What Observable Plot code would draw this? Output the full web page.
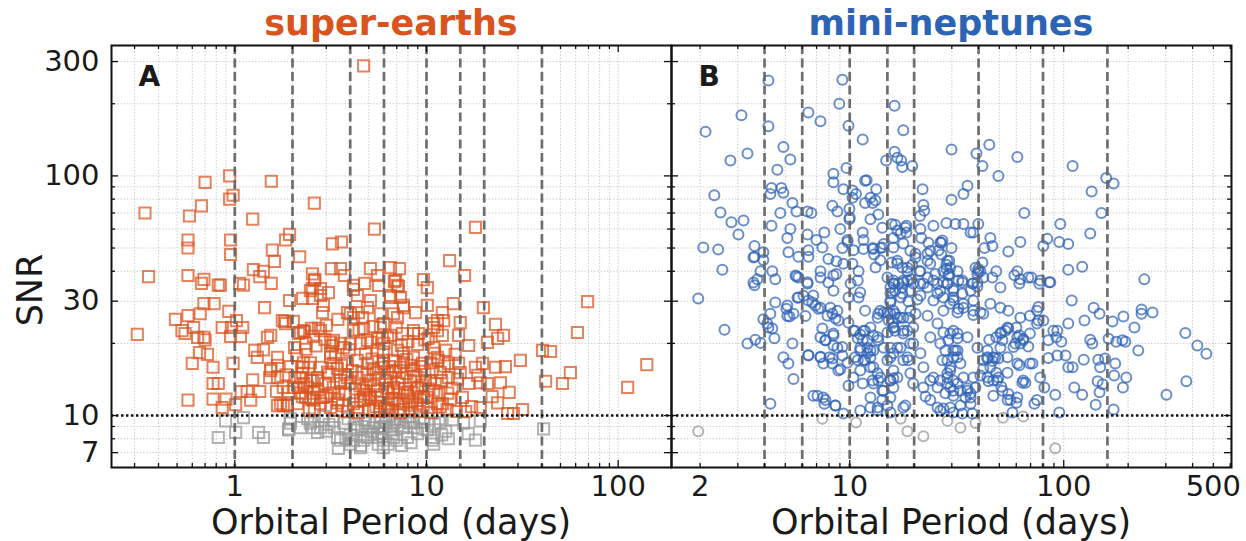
<!DOCTYPE html>
<html>
<head>
<meta charset="utf-8">
<script src="https://cdn.jsdelivr.net/npm/d3@7"></script>
<script src="https://cdn.jsdelivr.net/npm/@observablehq/plot@0.6"></script>
<style>
  body { margin: 0; background: #fff; font-family: "DejaVu Sans", sans-serif; }
  #fig { position: relative; width: 1246px; height: 541px; overflow: hidden; }
  #fig svg { position: absolute; top: 40px; overflow: visible; }
  .lbl { position: absolute; line-height: 1; white-space: nowrap; transform: translate(-50%, -50%); color: #1a1a1a; }
  .title { font-weight: bold; font-size: 35px; }
  .axis { font-size: 35px; }
</style>
</head>
<body>
<div id="fig">
  <div class="lbl title" style="left:391px; top:23px; color:#d9531e;">super-earths</div>
  <div class="lbl title" style="left:951px; top:23px; color:#2d63b4;">mini-neptunes</div>
  <div class="lbl axis" style="left:30px; top:290px; transform:translate(-50%,-50%) rotate(-90deg);">SNR</div>
  <div class="lbl axis" style="left:391px; top:522px;">Orbital Period (days)</div>
  <div class="lbl axis" style="left:951px; top:522px;">Orbital Period (days)</div>
</div>
<script>
// Detected planets: [orbital period (days), SNR]
const superEarths = [
  [4.7,288],[0.34,70],[0.70,94],[0.94,100],[0.94,80],[0.98,83],[1.55,95],[0.67,75],[0.58,68],[1.24,66],[2.6,77],[5.35,60],
  [1.93,57],[1.84,54],[0.57,54],[0.57,50],[0.95,54],[0.95,47],[1.57,49],[1.61,44],[2.18,46],[3.23,52],[3.6,53],
  [0.355,38],[0.57,38.4],[0.69,37],[0.67,35.6],[0.82,35],[0.84,35],[1.06,35.6],[1.11,35],[1.25,40.6],[1.41,40],[1.35,38],
  [1.55,35.6],[2.54,39],[2.61,37],[3.19,41],[3.56,41],[3.73,38.4],[5.1,41],[5.55,38.4],[6.49,41.4],[6.89,36.6],[4.16,33.6],[4.75,35.6],
  [18,61],[13.2,44.3],[15.8,38.4],[7.23,41],[6.8,36.2],[7.14,34.5],[9.64,36.9],
  [0.31,21.8],[0.49,25.2],[0.57,26.1],[0.53,22.6],[0.55,22],[0.69,29.3],[0.78,29.3],[0.66,26.6],[0.93,27.2],[1.02,24.9],
  [0.86,23.3],[0.96,23.3],[1.10,23.3],[1.07,21.4],[0.95,21.4],[0.64,21.2],[0.69,21.2],[0.70,20.7],[0.61,23.3],[0.655,18.3],
  [0.72,18],[0.60,16.5],[0.77,15.9],[0.98,16.5],[0.77,13.6],[0.82,13.6],[0.57,11.6],[0.77,11.7],[0.90,11.7],[0.86,10.8],[1.01,11.1],
  [1.08,12.6],[1.16,12.6],[1.24,14.1],[1.35,12.6],[1.21,11.6],[1.27,18.7],[1.31,17.5],[1.41,18.8],[1.48,21.2],[1.54,21.6],
  [1.43,28.2],[1.54,15.7],[1.52,14.4],[1.67,17.5],[1.67,16.2],[1.65,12.6],
  [1.93,30.2],[2.26,30.8],[2.54,30.8],[2.80,33.9],[2.48,33.2],[2.61,36.6],[1.77,24.9],[1.82,24.7],[2.02,24.7],[2.20,22.2],
  [2.31,22.4],[2.51,23.1],[2.73,23.1],[2.57,21.4],[1.73,11.2],[1.88,11.1],[1.79,11.0],
  [1.91,12.6],[2.15,13.1],[2.06,14.4],[2.26,15.9],[2.42,15.9],[2.54,14.0],[2.39,13.1],[2.57,12.4],[2.80,11.9],[2.34,11.9],[2.20,14.4],
  [2.54,33.9],[2.80,31.7],[3.08,32.6],[2.90,28.8],[2.87,26.9],
  [4.16,34.9],[4.36,31.7],[3.87,26.9],[4.42,26.9],[4.16,25.6],[4.64,25.6],[4.92,28.2],[5.10,30.2],
  [5.62,34.9],[7.06,34.9],[6.49,31.7],[7.58,28.2],[7.06,25.6],[5.97,24.2],[5.75,26.6],
  [8.77,26.9],[10.1,34.2],[10.1,28.8],[10.9,24.2],[11.4,24.9],
  [1.84,24.2],[2.28,22.6],[2.80,22.6],[2.15,22.0],
  [3.16,20.2],[3.23,19.6],[3.69,19.2],[4.53,20.0],[5.10,20.2],[5.55,21.0],[5.89,21.2],[6.49,21.6],[7.49,22.0],[8.55,22.6],
  [9.09,22.0],[10.9,19.2],[10.2,21.0],[11.4,22.6],
  [2.28,16.6],[2.48,16.6],[2.80,15.9],[3.16,17.5],[3.43,15.7],[3.87,16.5],[4.36,17.0],[4.92,16.5],[5.29,15.7],[5.97,16.5],
  [6.73,17.0],[7.58,16.6],[8.55,17.5],[9.53,16.5],[10.5,16.6],[11.4,17.5],
  [1.54,15.4],[1.67,14.4],[1.79,13.1],[2.02,13.1],[2.26,15.0],[2.48,14.0],[2.70,14.4],[2.97,13.6],[3.27,13.1],[3.56,14.0],
  [4.01,13.6],[4.36,14.4],[4.69,12.7],[5.10,14.0],[5.55,12.7],[6.11,14.0],[6.73,13.1],[7.49,14.4],[8.25,14.0],[8.98,13.1],
  [9.88,14.0],[11.1,13.6],
  [1.67,11.0],[1.88,11.0],[2.12,11.2],[2.57,11.6],[2.90,11.9],[3.16,10.8],[3.47,11.6],[3.78,12.4],[4.16,11.2],[4.69,11.6],
  [5.10,11.9],[5.75,11.3],[6.34,12.4],[7.06,11.2],[7.95,12.1],[8.98,11.2],[10.1,11.9],[11.4,11.2],
  [69.2,29.9],[61.3,22.2],[40.3,18.7],[44.4,18.5],[30.9,17.0],[25.8,16.0],[22.9,15.9],[23.5,21.0],[25.2,21.6],[22.9,24.0],
  [19.8,28.2],[20.8,20.2],[19.6,16.5],[20.8,13.6],[19.1,10.8],[23.5,11.3],[26.5,10.2],[28.4,10.2],[31.7,10.6],[41.8,13.9],
  [51.2,13.6],[56.3,15.1],[112,13.1],[141,16.3],
  [13.8,29.3],[12.1,26.9],[12.3,24.9],[7.58,28.8],
  [15.0,24.4],[14.7,21.6],[16.6,19.6],[14.7,16.5],[15.0,15.1],[16.6,13.6],[15.4,11.9],[19.1,13.7],[18.5,14.7],[18.0,15.9],
  [10.9,23.3],[12.1,21.6],[12.6,18.7],[11.5,17.0],[13.0,16.5],[11.8,15.1],[13.0,14.4],[10.9,12.7],[12.9,12.4],[12.1,11.2],
  [10.1,10.8],[9.64,11.9],[10.5,14.0],
  [8.55,22.0],[7.58,18.2],[8.55,15.4],[7.31,15.9],[8.98,12.9],[7.95,12.4],[6.73,12.7],[7.58,11.2],[6.26,10.8],[6.49,14.4],
  [7.06,18.7],[6.26,21.2],[5.75,23.3],[6.73,26.6],[7.31,31.1],[6.49,31.1],
  [3.27,20.6],[3.56,20.0],[3.16,18.2],[3.27,16.5],[4.01,26.6],[4.16,22.6],[4.69,23.1],[4.92,20.6],[5.55,18.7],[5.97,17.0],
  [6.26,15.0],[5.55,11.9],[4.53,11.6],[5.29,10.5],[6.34,11.2],[3.87,14.4],[3.56,13.6],[2.70,14.0],[2.28,13.6],[2.20,12.4],
  [2.48,11.9],[2.80,11.2],[3.16,12.4],[3.43,11.3],
  [24.3,13.7],[27.0,12.5],[22.0,12.0],
  [3.9,10.4],[4.4,10.3],[5.0,10.6],[5.7,10.4],[6.6,10.5],[7.3,10.3],[8.2,10.7],[9.2,10.4],[3.4,10.5],[2.6,10.6],
  [12.8,10.6],[14.3,10.4],[17.2,10.9],[16.0,10.4],
  [2.1,17.8],[2.35,18.9],[2.65,19.5],[2.95,20.8],[3.05,15.2],[3.35,17.9],[3.6,16.2],[3.75,14.8],[3.95,18.8],[4.1,15.4],
  [4.25,12.9],[4.5,13.3],[4.6,15.1],[4.8,18.1],[4.85,13.1],[5.0,12.2],[5.2,17.2],[5.3,13.3],[5.45,15.1],[5.65,14.4],
  [5.8,12.2],[5.95,18.4],[6.2,13.0],[6.4,16.0],[6.6,11.8],[6.9,15.4],[7.1,13.6],[7.2,12.5],[7.4,19.6],[7.7,13.0],
  [7.9,15.0],[8.1,11.5],[8.3,16.2],[8.6,12.4],[8.8,14.6],[9.0,19.8],[9.3,12.0],[9.5,13.4],[9.8,15.3],[10.3,12.9],
  [10.7,15.5],[11.0,18.2],[11.6,12.4],[12.0,14.0],[12.4,16.1],[13.3,11.7],[13.6,13.0],[14.1,18.0],[14.5,14.2],[3.5,12.4],
  [3.0,12.1],[2.7,12.8],[2.45,10.5],[3.65,11.0],[4.35,10.8],[4.75,12.3],[5.45,10.9],[6.05,10.7],[6.8,11.6],[7.6,10.6],
  [8.4,11.4],[9.6,11.0],[10.6,10.3],[11.8,10.9],[4.0,19.9],[4.45,22.8],[5.25,23.5],[6.0,20.0],[6.95,23.4],[8.0,20.4],
  [9.8,20.7],[3.0,23.8],[3.45,25.2],[2.35,20.0],[2.05,19.2],[1.95,16.0],[1.85,14.8],[2.25,12.0],[3.1,14.9],[4.9,14.9],
  [5.8,15.9],[6.7,15.2],[7.9,17.1],[9.3,16.0]
];

// Super-earth candidates below the SNR cut
const superEarthsFaint = [
  [1.95,9.3],[2.20,8.9],[2.48,9.3],[2.80,8.9],[1.91,8.7],[2.70,8.5],[3.43,8.1],[3.56,7.9],[4.01,7.6],[4.53,7.5],[4.92,8.1],
  [5.29,8.9],[5.55,8.4],[5.97,7.9],[6.11,9.5],[7.06,9.1],[7.58,8.9],[8.25,9.3],[8.98,8.4],[10.1,8.7],[10.9,8.1],[10.9,7.6],
  [6.49,8.7],[4.36,8.7],[40.8,8.8],[13.0,8.0],[10.7,7.9],[18.0,7.9],[15.6,9.3],[19.1,9.5],[11.8,9.35],[8.55,9.5],[6.73,8.1],
  [5.95,7.35],[7.95,8.1],[0.895,9.5],[1.01,8.5],[0.82,8.1],[1.11,9.8],[1.33,8.5],[1.41,8.1],[1.91,8.8],[1.95,9.7],[2.57,8.9],
  [3.27,9.5],[3.47,7.3],[4.53,7.35],[4.16,7.85],[5.10,8.6],[5.55,8.1],[6.73,9.3],
  [4.8,9.6],[5.8,9.8],[6.0,9.0],[5.4,9.4],[3.9,9.7],[3.1,9.2],[2.4,9.7],[4.3,9.2],[6.4,9.9],[7.3,9.6],[9.2,9.7],[9.7,9.4],
  [5.9,8.4],[6.3,7.6],[4.0,8.3],[3.0,8.6],[5.7,8.9],[11.6,9.7],[12.6,8.6],[2.9,9.9],[8.1,9.9],
  [3.3,8.9],[3.7,9.3],[4.2,8.9],[4.6,9.0],[5.0,9.3],[5.2,8.3],[6.6,8.4],[7.0,7.9],[7.8,9.4],[8.6,8.9],[9.5,8.8],
  [11.0,9.2],[12.0,8.3],[13.8,9.6],[16.5,8.4],[2.6,9.5],[3.8,8.0],[4.7,7.9],[6.9,9.6],[8.3,7.7],[5.6,7.6],[7.4,7.5]
];

const miniNeptunes = [
  [2.12,153],[3.12,179],[2.77,116],[3.33,124],[4.17,250],[4.17,161],[4.90,132],[5.28,117],[4.59,106],[6.41,184],[7.30,169],
  [9.24,252],[8.94,200],[9.87,162],[11.5,142],[16.2,196],[17.8,155],[16.2,126],[14.8,116],[16.7,119],[17.4,116],[17.6,109],
  [19.6,110],[29.9,129],[2.33,83],[2.07,50.2],[2.43,49.3],[2.54,40.6],[2.49,70.3],[2.80,64],[3.19,65.1],[3.02,57],[3.59,51],
  [3.59,46],[3.95,48],[3.95,44.6],[3.83,40],[3.70,37],[3.59,35],[4.31,89],[4.79,89],[4.26,84],[4.90,85],[5.40,77],[5.64,71],
  [4.74,70],[4.31,62],[5.28,60],[5.11,55],[5.17,48],[4.35,40],[4.49,37],[5.76,46],[6.41,46],[6.41,49],[6.35,57],[5.64,38],
  [6.35,36],[6.35,71],[6.62,70],[6.99,54],[7.61,58],[7.30,40],[8.39,102],[8.39,94],[9.34,88],[10.3,87],[9.66,108],[9.97,73],
  [10.7,84],[8.30,75],[8.76,71],[10.3,81],[9.97,66],[9.04,60],[9.76,54],[9.76,53],[9.24,50],[10.4,49],[8.66,44],[7.95,45],
  [8.66,39],[11.5,58],[11.6,54],[12.5,66],[13.6,69],[12.8,77],[12.0,96],[13.3,88],[12.5,81],[13.2,79],[12.8,50],[13.0,47],
  [13.9,50],[13.9,44.5],[13.2,41.5],[14.4,52],
  [15.7,63],[16.3,62.6],[18.4,62],[18.4,58],[17.3,57.5],[21.9,88],[22.1,75.6],[22.3,71.5],[21.3,68],[21.4,60],[21.6,55],
  [23.3,52.6],[24.6,62],[26.8,52.6],[28.3,63.6],[29.9,79.5],[29.9,50],[31.2,63],[29.2,44.3],[28.3,41],[26.8,47],
  [15.7,43.5],[16.7,44.3],[17.6,41.5],[18.6,40],[19.6,42.6],[20.3,47.3],[21.2,40],[16.0,36.6],[17.8,36.6],[19.4,37],[23.1,47.3],
  [23.8,43],[26.0,48.8],[25.1,39],[28.3,42.6],[29.2,39],[31.9,40],[32.2,36.6],[28.6,35.5],[25.7,35.5],[23.1,37.7],[21.4,35.5],
  [17.6,34.2],[15.5,34.2],
  [44.9,135],[39.1,124],[41.7,110],[60.7,120],[49.5,100],[110,110],[158,98],[171,93],[135,86],[35.5,91],[34.0,84],[65.4,70],
  [150,70],[96.4,63],[133,57.5],[34.0,63],[39.9,63],[37.8,58],[45.4,55],[46.4,51],[42.6,50],[55.1,48.4],[62.7,53],[83.8,54.6],
  [80.3,51],[95.3,53],[105,52],[41.7,43.5],[39.9,41],[39.5,39],[48.4,40],[46.4,37.7],[60.7,40],[58.8,38.5],[62.7,37],[70.6,37.7],
  [77.7,36.6],[85.6,36],[105,40.6],[122,41.8],[238,37],[27.4,35.9],[30.5,33.9],[33.6,35.9],[37.4,35.6],[50.6,34.2],[62,35.6],
  [109,30.2],[138,28.2],[147,26.6],[125,24.9],[169,24.7],[190,25.9],[214,23.3],[223,18.7],[231,27.7],[231,26.6],[260,26.9],
  [370,22.1],[421,19.6],[464,18.1],[302,12.2],[374,13.9],[194,20.3],[188,20.6],[176,20.3],[162,20.9],[133,20.7],[136,20],
  [156,17.3],[145,17.1],[148,15.9],[174,16.5],[172,14.7],[196,14.4],[189,13.1],[144,13.9],[152,13.5],[147,12.5],[141,11.1],
  [171,10.6],[122,12.2],[112,13.1],[124,17.1],[105,15.9],[110,15.9],[102,17.8],[92.3,21.2],[97.4,20.3],[93.3,17.8],[105,24.2],
  [89.4,22.6],[93.3,22.6],[84.7,20.6],[84.7,17.4],[77.7,14.4],[81.2,13.1],[91.3,12.2],[95.3,10.3],[76.1,24.9],[80.3,24.9],
  [76.1,28.4],[76.9,35.5],[86.6,36],[68.3,37.7],[71.4,16.5],[64.1,13.7],[66.2,13.7],[72.9,11.2],[57.6,10.3],[60.1,11.3],
  [55.1,12.3],[56.3,11.6],[51.7,12.7],[51.1,13.2],[46.9,12.1],[44.5,13.9],[46.9,14.0],[40.8,14.7],[42.1,15.7],[46.4,16.9],
  [47.9,17.4],[44.0,17.3],[49.5,17.3],[48.4,15.1],[49.5,14.4],[54.6,15.1],[62.0,16.2],[62.7,20],[58.2,19.3],[59.4,20],
  [60.1,23.3],[55.1,23.1],[68.3,19.4],[64.7,20.9],[62.0,21.6],[51.1,22.2],[53.4,22.6],[51.7,20.6],[50.6,19.2],[48.4,21.2],
  [44.9,20.7],[44.0,18.7],[37.8,26.3],[40.8,26.9],[42.1,26.6],[37.8,30.2],[39.5,35.9],[39.5,34.5],[40.8,40],[38.7,41.4],
  [33.6,32.3],[32.2,27.9],[34.0,29.3],[30.5,33.2],[28.6,35.6],[28.9,38.4],
  [27.4,22.2],[28.9,20.6],[30.5,22.6],[31.9,21],[28.0,18.7],[31.2,18.7],[27.1,17],[29.5,15.9],[31.9,17.5],[32.9,16.5],
  [28.6,14.4],[30.5,14],[34.0,14.4],[35.5,13],[32.9,12.7],[29.5,13.1],[28.0,12.4],[30.5,12.1],[34.7,11.9],[36.7,12.4],
  [38.7,13.1],[29.5,10.8],[32.9,11],[36.7,11.2],[27.4,10.7],[37.4,10.2],[33.6,10.2],[30.5,10.3],
  [1.96,30.8],[2.60,22.8],[3.33,20],[3.62,20.7],[3.83,20.1],[3.95,25.2],[4.12,24.2],[4.17,23.3],[4.45,21],[3.55,35.9],
  [4.26,11.2],[4.90,17.5],[5.17,16.5],[5.46,14.2],[5.40,20],[4.49,29.6],[5.11,26],[5.23,25.9],[5.06,27.9],[5.70,31],
  [6.08,31.6],[6.21,26],[5.58,38.4],[5.76,37.7],[6.35,35.5],[6.69,29.6],[6.91,28.8],[7.14,27.9],[6.41,17.9],[7.30,17.6],
  [8.04,17.5],[7.53,16.5],[8.30,16.5],[9.04,15.6],[9.87,13.3],[6.76,12.1],[7.53,11.9],[7.61,11.2],[8.57,11],[9.34,10.2],
  [7.30,21.2],[7.70,20.6],[8.39,21.6],[8.39,19.6],[9.24,19.3],[8.30,26.6],[8.57,25.4],[7.87,26.1],[7.30,37.7],[7.95,35.9],
  [8.39,38.4],[9.34,43],[10.3,43],[11.0,40],[9.87,31.1],[11.0,31.1],[10.9,36.6],[9.87,24.4],
  [10.6,22.6],[11.2,21.8],[11.8,22.6],[12.5,23.3],[12.9,21.6],[11.5,20.6],[12.1,19.2],[11.2,18.7],[12.1,18.2],[12.9,18.7],
  [13.6,20.6],[10.9,17],[11.6,17],[12.5,17.5],[12.9,15.9],[12.9,13.6],[13.9,14.4],[14.2,12.7],[15.5,14],[16.0,14.3],
  [16.0,13.1],[14.2,11.6],[15.5,11.9],[12.5,10.8],[13.5,10.5],[11.2,10.5],[15.5,10.3],[18.2,11.0],
  [13.6,26.6],[13.9,27.4],[15.0,26.9],[16.3,26.6],[17.3,25.6],[16.0,24.4],[17.8,22.6],[16.3,22.6],[18.6,22.6],[15.5,19.2],
  [16.7,19.2],[18.6,17.5],[18.8,17],[19.8,20],[19.2,27.4],[18.8,25.6],[20.3,26.6],[18.8,29.9],[20.7,30.5],[23.1,26.1],
  [25.7,24.2],[27.4,27.4],[29.5,29.3],[15.0,37.7],[16.0,35.6],[16.9,35.6],[18.6,36.6],[19.8,35.6],[17.6,32.3],[15.5,32.3],
  [16.3,33.2],[21.4,40],[22.1,35.6],[24.6,36.6],[27.4,40],[26.5,33.2],[30.5,31.1],[19.8,13.6],[22.1,13.1],[24.6,14.4],
  [26.5,14],[22.6,12],[25.7,10.8],[28.6,13.6],[30.5,12.7],[29.5,15.4],[30.5,18.7],[28.6,17],[31.9,26.9],[31.9,22],
  [4.26,26.6],[4.35,23.1],[5.11,28.8],[5.46,26.6],[5.76,31.1],[6.41,30.2],[6.76,31.7],[7.30,28.2],[8.12,28.2],[8.76,27.4],
  [8.85,24.9],[8.39,33.2],[10.1,35.6],[11.2,32.6],[11.8,27.4],[13.5,25.6],[14.4,26.9],[15.5,29.6],[16.7,25.6],
  [7.45,23.1],[8.39,22],[7.70,20.6],[8.76,19.2],[8.30,17.3],[9.24,17.8],[9.76,16.6],[8.85,15.4],[7.30,17.5],[6.41,17.8],
  [7.07,12.1],[7.70,11.6],[8.57,11],
  [10.4,22.6],[11.6,22.6],[10.9,21],[12.1,20.6],[11.2,19.2],[12.5,18.7],[10.6,17.5],[11.8,17],[11.2,15.4],[12.5,15.9],
  [13.5,15],[10.4,14.4],[11.5,13.6],[12.8,14],[13.6,14],[14.4,12.7],[12.5,11.9],[13.5,10.8],[15.0,11],[15.5,14],[16.0,15.4],
  [15.0,17],[16.0,18.2],[14.4,19.2],[13.5,21.2],[15.0,22.2],[16.0,23.3],[15.2,24.9],[15.5,26.6],
  [36.7,58],[16.7,59.2],[18.2,60.8],[16.0,50.2],[17.8,52.2],[19.2,48.7],[16.7,43.1],[18.6,41.4],[20.3,45.6],[23.1,44.3],
  [23.8,48.7],[26.5,52.7],[28.6,44.3],[29.5,41.4],[33.6,36.6],[37.8,35.6],[39.9,40],[36.7,33.2],[42.1,37.7],
  [16.0,35.6],[17.8,35.9],[15.5,30.2],[17.3,31.1],[19.2,33.2],[21.4,31.7],[23.1,34.2],[25.7,32.3],[24.6,30.2],[27.4,31.1],
  [30.5,30.2],[34.0,28.2],[37.8,27.4],[45.4,29.3],[50.6,28.2],[55.1,27.4],[62.7,25.6],[69.5,26.1],[75,27.4],
  [16.0,27.4],[17.8,25.6],[16.0,23.3],[17.8,22],[19.8,23.3],[17.3,19.2],[19.2,20],[21.4,18.2],[23.8,21.2],[26.5,20],
  [29.5,22],[31.9,18.7],[35.5,21.2],[39.5,19.2],[44.0,17.5],[50.6,22],[54.6,23.3],[60.7,21.2],[64.7,20.6],[69.5,22],[75,24.2],
  [15.5,17.5],[17.8,17],[16.7,14.4],[19.2,15],[22.1,15.9],[23.8,14],[25.7,13.1],[28.6,15],[30.5,17.5],[31.9,13.6],
  [35.5,12.7],[37.8,14.4],[42.1,17],[44.0,14.4],[45.4,15.9],[48.9,14],[46.9,17.5],[54.6,17.5],[60.7,16.5],[64.7,14],
  [69.5,16.5],[75,11.6],[60.7,11.9],[54.6,11.6],[17.8,10.8],[23.8,11.6],[36.7,11.9],[26.5,10.5],
  [3.55,45.6],[7.45,50.2],[10.0,67],[14.2,60.8],[11.6,49.5],[12.9,49.5],[14.2,50.2],[16.0,55],[11.8,95.4],[11.8,77],[27.1,53.7]
];

// Mini-neptune candidates below the SNR cut
const miniNeptunesFaint = [
  [1.96,8.6],[7.45,9.7],[10.7,9.35],[17.3,9.7],[18.6,8.6],[22.1,8.2],[28.6,9.5],[32.9,8.9],[38.7,9.3],[64.7,9.9],[91.3,7.3],[52,9.8]
];

// Reference periods marked with dashed lines
const superEarthRefs = [1, 2, 4, 6, 10, 15, 20, 40];
const miniNeptuneRefs = [4, 6, 10, 15, 20, 40, 80, 160];

// Axis ticks
const superEarthXGrid = [0.3,0.4,0.5,0.6,0.7,0.8,0.9,1,2,3,4,5,6,7,8,9,10,20,30,40,50,60,70,80,90,100];
const superEarthXLabels = [1, 10, 100];
const miniNeptuneXGrid = [2,3,4,5,6,7,8,9,10,20,30,40,50,60,70,80,90,100,200,300,400,500,600];
const miniNeptuneXLabels = [2, 10, 100, 500];
const miniNeptuneXMajor = [10, 100];
const yGrid = [7,8,9,10,20,30,40,50,60,70,80,90,100,200,300];
const yLabels = [7, 10, 30, 100, 300];
const snrThreshold = 10;

const H = 501, MT = 5, MB = 74;
const innerH = H - MT - MB;
const yDomain = [6.07, 350];

function panel({width, marginLeft, marginRight, xDomain, xGrid, xMajor, xLabels, refs,
                detected, faint, symbol, r, color, letter, yTickLabels}) {
  const innerW = width - marginLeft - marginRight;
  const gridStyle = {stroke: "#c4c4c4", strokeWidth: 0.9, strokeDasharray: "1.4,1.8"};
  const tick = {stroke: "#111", strokeWidth: 1.3};
  const minorX = xGrid.filter(v => !xMajor.includes(v));
  const minorY = yGrid.filter(v => !yLabels.includes(v));
  const marks = [
    Plot.ruleX(xGrid, gridStyle),
    Plot.ruleY(yGrid, gridStyle),
    Plot.dot(faint, {x: d => d[0], y: d => d[1], symbol, r, fill: "none",
      stroke: "#9a9a9a", strokeOpacity: 0.75, strokeWidth: 2}),
    Plot.dot(detected, {x: d => d[0], y: d => d[1], symbol, r, fill: "none",
      stroke: color, strokeOpacity: 0.72, strokeWidth: 2}),
    Plot.ruleX(refs, {stroke: "#666", strokeOpacity: 0.95, strokeWidth: 2.7, strokeDasharray: "9,4.5"}),
    Plot.ruleY([snrThreshold], {stroke: "#111", strokeWidth: 2.4, strokeDasharray: "2.4,2.6"}),
    // inward ticks on all four sides
    Plot.ruleX(minorX, {...tick, insetTop: innerH - 4}),
    Plot.ruleX(xMajor, {...tick, insetTop: innerH - 7}),
    Plot.ruleX(minorX, {...tick, insetBottom: innerH - 4}),
    Plot.ruleX(xMajor, {...tick, insetBottom: innerH - 7}),
    Plot.ruleY(minorY, {...tick, insetRight: innerW - 4}),
    Plot.ruleY(yLabels, {...tick, insetRight: innerW - 7}),
    Plot.ruleY(minorY, {...tick, insetLeft: innerW - 4}),
    Plot.ruleY(yLabels, {...tick, insetLeft: innerW - 7}),
    Plot.frame({stroke: "#111", strokeWidth: 2}),
    Plot.text(xLabels, {x: d => d, text: d => String(d), frameAnchor: "bottom", lineAnchor: "top", dy: 8}),
    Plot.text([letter], {frameAnchor: "top-left", dx: 27, dy: 21, fontWeight: "bold", fontSize: 28})
  ];
  if (yTickLabels) {
    marks.push(Plot.text(yLabels, {y: d => d, text: d => String(d), frameAnchor: "left", textAnchor: "end", dx: -12}));
  }
  return Plot.plot({
    width, height: H, marginTop: MT, marginBottom: MB, marginLeft, marginRight,
    x: {type: "log", domain: xDomain, axis: null},
    y: {type: "log", domain: yDomain, axis: null},
    style: {fontFamily: "DejaVu Sans, sans-serif", fontSize: "29px", color: "#1a1a1a", background: "transparent", overflow: "visible"},
    marks
  });
}

const left = panel({
  width: 671, marginLeft: 111, marginRight: 0,
  xDomain: [0.2274, 189.7], xGrid: superEarthXGrid, xMajor: superEarthXLabels, xLabels: superEarthXLabels,
  refs: superEarthRefs, detected: superEarths, faint: superEarthsFaint,
  symbol: "square", r: 6.3, color: "#d9531e", letter: "A", yTickLabels: true
});
left.style.left = "0px";

const right = panel({
  width: 575, marginLeft: 0, marginRight: 15,
  xDomain: [1.47, 608], xGrid: miniNeptuneXGrid, xMajor: miniNeptuneXMajor, xLabels: miniNeptuneXLabels,
  refs: miniNeptuneRefs, detected: miniNeptunes, faint: miniNeptunesFaint,
  symbol: "circle", r: 5, color: "#2f62b6", letter: "B", yTickLabels: false
});
right.style.left = "671px";

const fig = document.getElementById("fig");
fig.appendChild(left);
fig.appendChild(right);
</script>
</body>
</html>
